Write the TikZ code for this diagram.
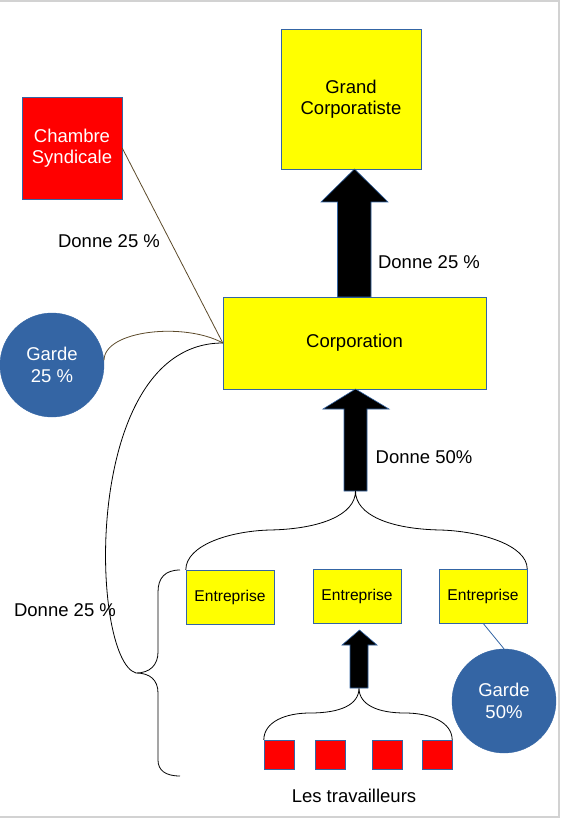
\documentclass[tikz,border=0pt]{standalone}
\usepackage{fontspec}
\setmainfont{Liberation Sans}
\usetikzlibrary{arrows.meta,positioning}
\definecolor{lobleu}{RGB}{52,101,164}
\definecolor{lien}{RGB}{92,74,42}
\definecolor{jaune}{RGB}{255,255,0}
\definecolor{rouge}{RGB}{255,0,0}

\begin{document}
\begin{tikzpicture}[x=1pt,y=-1pt,font=\fontsize{18.5}{21.5}\selectfont,
box/.style={draw=lobleu,fill=jaune,align=center,inner sep=0pt},
redbox/.style={draw=lobleu,fill=rouge,text=white,align=center,inner sep=0pt},
ent/.style={box,minimum width=88,minimum height=54,font=\fontsize{15.6}{18}\selectfont},
worker/.style={draw=lobleu,fill=rouge,inner sep=0pt,minimum width=30,minimum height=29},
garde/.style={circle,draw=lobleu,fill=lobleu,text=white,align=center,minimum size=104,inner sep=0pt},
blockarrow/.style={fill=black,draw=lobleu,line width=.6},
brace/.style={black,line width=.8}]
\useasboundingbox (0,0) rectangle (562,818);
\draw[gray!35,line width=1.5] (0,1)--(559,1)--(559,817)--(0,817);
\node[box,minimum width=140,minimum height=140] (gc) at (351,99) {Grand\\Corporatiste};
\node[redbox,minimum width=100,minimum height=102] (cs) at (72,148) {Chambre\\Syndicale};
\node[box,minimum width=263,minimum height=92] (corp) at (354.5,343) {Corporation};
\node[garde] (g25) at (52,365) {Garde\\25 \%};
\node[garde] (g50) at (504,701) {Garde\\50\%};
\node[ent] (e1) at (230,597) {Entreprise};
\node[ent] (e2) at (357,596) {Entreprise};
\node[ent] (e3) at (483,596) {Entreprise};
\node[worker] (w1) at (279,754.5) {};
\node[worker] (w2) at (330,754.5) {};
\node[worker] (w3) at (387,754.5) {};
\node[worker] (w4) at (437,754.5) {};
\node (lt) at (354,796) {Les travailleurs};
\node (d1) at (109,241) {Donne 25 \%};
\node (d2) at (429,262) {Donne 25 \%};
\node (d3) at (424,457) {Donne 50\%};
\node (d4) at (65,610) {Donne 25 \%};
\coordinate (tipe) at (355.5,491);
\coordinate (tipw) at (359,688);
\coordinate (tipl) at (136,673);
\filldraw[blockarrow] (337.5,297)--(337.5,202)--(321,202)--(354.5,169)--(388,202)--(371,202)--(371,297)--cycle;
\filldraw[blockarrow] (344,491)--(344,409)--(323,409)--(355.5,389)--(389,409)--(367,409)--(367,491)--cycle;
\filldraw[blockarrow] (350,688)--(350,645)--(342,645)--(359.5,630)--(377,645)--(368,645)--(368,688)--cycle;
\draw[brace] (e1.north west) .. controls (186,545) and (230,531) .. (270,530) .. controls (320,529) and (355.5,515) .. (tipe) .. controls (355.5,515) and (390,529) .. (440,530) .. controls (480,531) and (527,545) .. (e3.north east);
\draw[brace] (w1.north west) .. controls (264,722) and (285,713) .. (310,713) .. controls (340,713) and (359,705) .. (tipw) .. controls (359,705) and (378,713) .. (405,713) .. controls (430,713) and (452,722) .. (w4.north east);
\draw[brace] (180,570) .. controls (165,570) and (158,578) .. (158,592)--(158,652) .. controls (158,665) and (150,673) .. (tipl) .. controls (150,673) and (158,680) .. (158,693)--(158,760) .. controls (158,770) and (165,776) .. (180,776);
\draw[brace] (tipl) .. controls (90,660) and (80,343) .. (corp.west);
\draw[lien,line width=.8] (g25.5) .. controls (104,330) and (185,322) .. (corp.west);
\draw[lien,line width=.8] (cs.east)--(corp.west);
\draw[lobleu,line width=.8] (e3.south)--(g50.north);
\end{tikzpicture}
\end{document}
